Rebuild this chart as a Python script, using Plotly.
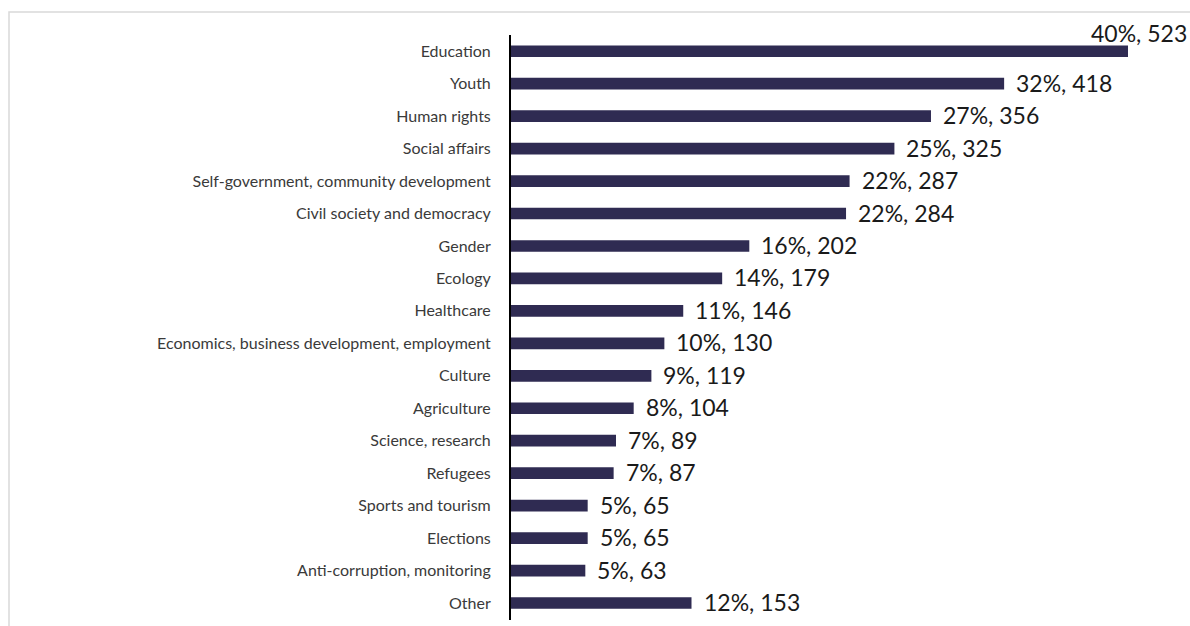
import plotly.graph_objects as go

# Areas of activity, ordered top to bottom
categories = [
    "Education", "Youth", "Human rights", "Social affairs",
    "Self-government, community development", "Civil society and democracy",
    "Gender", "Ecology", "Healthcare",
    "Economics, business development, employment", "Culture", "Agriculture",
    "Science, research", "Refugees", "Sports and tourism", "Elections",
    "Anti-corruption, monitoring", "Other",
]
counts = [523, 418, 356, 325, 287, 284, 202, 179, 146, 130, 119, 104, 89, 87, 65, 65, 63, 153]
percents = [40, 32, 27, 25, 22, 22, 16, 14, 11, 10, 9, 8, 7, 7, 5, 5, 5, 12]

BAR_COLOR = "#2f2b52"
FONT = "Lato"

W, H = 1190, 626
L, R, T, B = 511, 62, 35, 6

fig = go.Figure(
    go.Bar(
        x=counts,
        y=categories,
        orientation="h",
        marker=dict(color=BAR_COLOR, line=dict(width=0)),
        width=0.36,
        hoverinfo="skip",
    )
)

# Value labels: "pct%, count" beside each bar end
annotations = []
for i, (cat, n, p) in enumerate(zip(categories, counts, percents)):
    a = dict(
        x=n, y=cat, xref="x", yref="y",
        text=f"{p}%, {n}",
        showarrow=False,
        xanchor="left", yanchor="middle",
        font=dict(family=FONT, size=23, color="#1a1a1a"),
    )
    if i == 0:
        # longest bar: label sits just above its end, kept inside the page
        a.update(xshift=-39, yshift=18)
    else:
        a.update(xshift=10, yshift=1)
    annotations.append(a)

plot_w = W - L - R
plot_h = H - T - B

def px_x(px):
    return (px - L) / plot_w

def px_y(py):
    return (H - B - py) / plot_h

fig.update_layout(
    width=W, height=H,
    margin=dict(l=L, r=R, t=T, b=B, pad=0),
    paper_bgcolor="white",
    plot_bgcolor="white",
    showlegend=False,
    bargap=0.64,
    annotations=annotations,
    shapes=[
        dict(
            type="rect", xref="paper", yref="paper",
            x0=px_x(9), x1=px_x(1230), y0=px_y(660), y1=px_y(12),
            line=dict(color="#d9d9d9", width=1.5),
            fillcolor="rgba(0,0,0,0)", layer="below",
        )
    ],
    xaxis=dict(
        range=[0, max(counts)],
        visible=False,
        fixedrange=True,
    ),
    yaxis=dict(
        categoryorder="array",
        categoryarray=categories,
        autorange="reversed",
        showline=True,
        linecolor="black",
        linewidth=2,
        showgrid=False,
        zeroline=False,
        ticks="",
        ticklabelstandoff=15,
        tickfont=dict(family=FONT, size=16, color="#3a3a3a"),
        fixedrange=True,
    ),
)

fig.write_html("out.html")
